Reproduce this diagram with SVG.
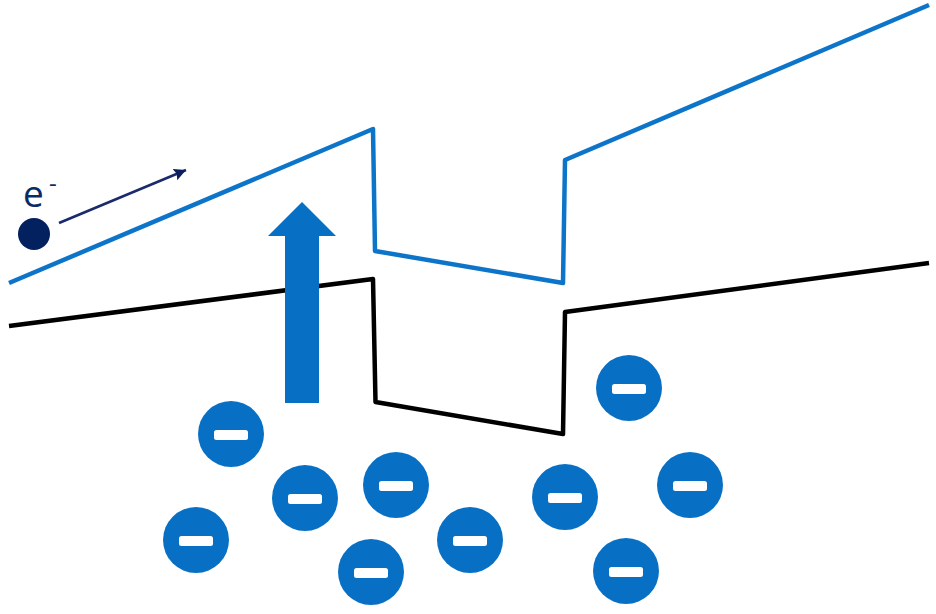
<svg xmlns="http://www.w3.org/2000/svg" width="936" height="614" viewBox="0 0 936 614">
<style>
.band{fill:none;stroke-width:4.5;stroke-linejoin:round;stroke-linecap:butt}
.ion circle{fill:#0870c4}
.ion rect{fill:#fff}
text{font-family:"Open Sans","Noto Sans",sans-serif;fill:#0b2a66}
</style>
<defs>
<marker id="ah" markerUnits="userSpaceOnUse" markerWidth="14" markerHeight="14" refX="12" refY="6" orient="auto"><path d="M0 0L12 6L0 12L2 6Z" fill="#0b1f5c"/></marker>
<g id="minus" class="ion"><circle r="33"/><rect x="-17" y="-4" width="34" height="10" rx="2.5"/></g>
</defs>
<rect width="936" height="614" fill="#fff"/>
<g id="connectors">
<path id="valence-band" class="band" stroke="#000" d="M9 326L373 279L375.500 402L563 434L565 312L929 263"/>
<path id="conduction-band" class="band" stroke="#0d75c9" d="M9 283L373 129L375 251L563 283L565 160L929 5"/>
<path id="electron-arrow" d="M59 223L186 170" stroke="#1a2a6c" stroke-width="2.500" fill="none" marker-end="url(#ah)"/>
</g>
<g id="up-arrow"><path d="M285 403V236H268L302 202L336 236H319V403Z" fill="#0870c4"/></g>
<g id="electron"><circle cx="34" cy="234" r="16" fill="#04215f"/><text x="23" y="207" font-size="37">e</text><text x="49" y="192" font-size="24">-</text></g>
<g id="ion-1"><use href="#minus" x="231" y="434"/></g>
<g id="ion-2"><use href="#minus" x="305" y="498"/></g>
<g id="ion-3"><use href="#minus" x="396" y="485"/></g>
<g id="ion-4"><use href="#minus" x="196" y="540"/></g>
<g id="ion-5"><use href="#minus" x="371" y="572"/></g>
<g id="ion-6"><use href="#minus" x="470" y="540"/></g>
<g id="ion-7"><use href="#minus" x="565" y="497"/></g>
<g id="ion-8"><use href="#minus" x="629" y="388"/></g>
<g id="ion-9"><use href="#minus" x="690" y="485"/></g>
<g id="ion-10"><use href="#minus" x="626" y="571"/></g>
</svg>
